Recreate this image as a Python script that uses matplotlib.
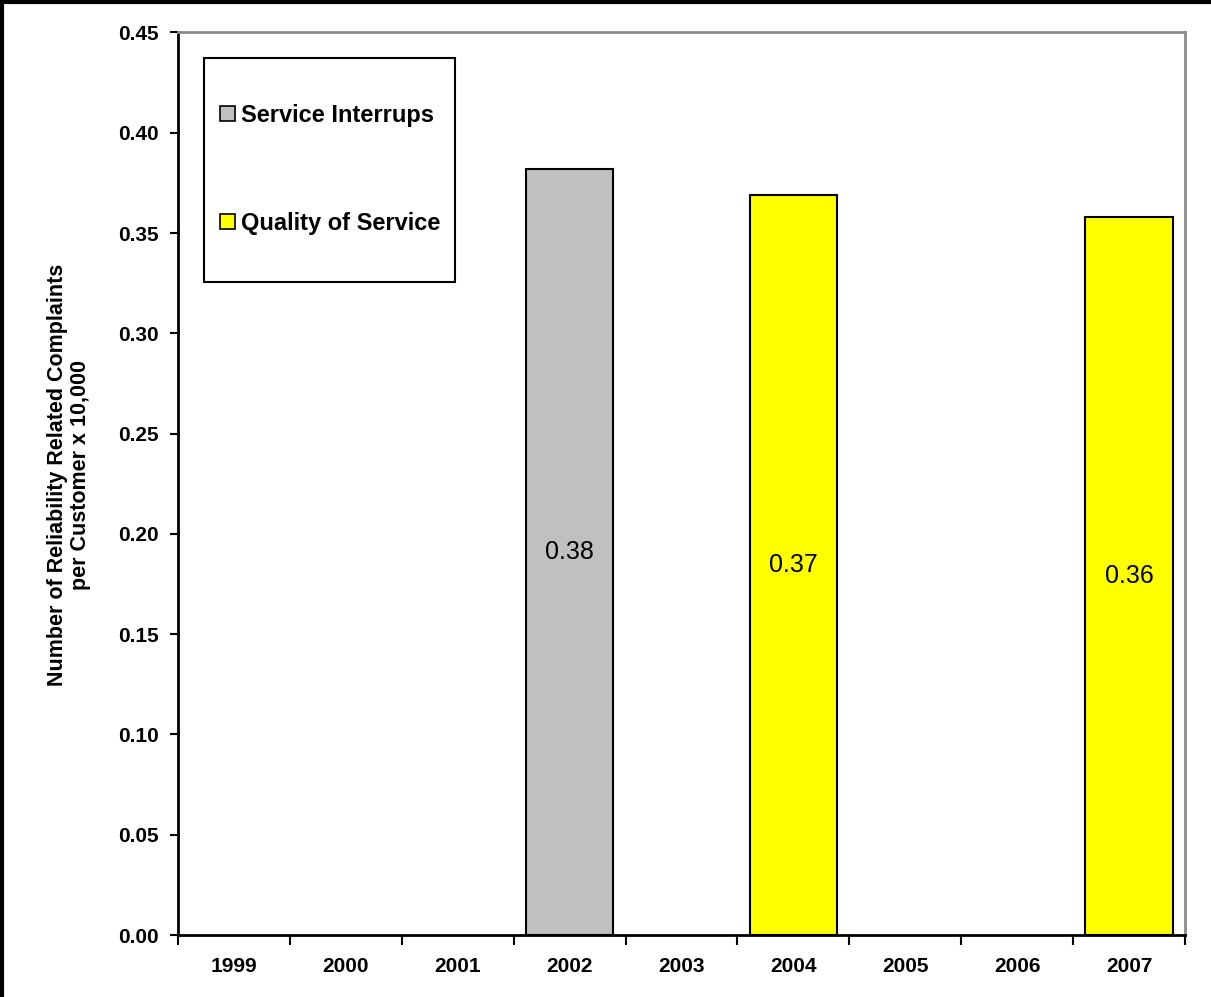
import numpy as np
import matplotlib
matplotlib.use("Agg")
import matplotlib.pyplot as plt
from matplotlib.patches import Rectangle, Patch
from matplotlib.lines import Line2D

plt.rcParams['font.family'] = ['Liberation Sans', 'DejaVu Sans']

# data
years = ['1999', '2000', '2001', '2002', '2003', '2004', '2005', '2006', '2007']
service_interrups = [np.nan, np.nan, np.nan, 0.382, np.nan, np.nan, np.nan, np.nan, np.nan]
quality_of_service = [np.nan, np.nan, np.nan, np.nan, np.nan, 0.369, np.nan, np.nan, 0.358]
y_ticks = [0.00, 0.05, 0.10, 0.15, 0.20, 0.25, 0.30, 0.35, 0.40, 0.45]

fig = plt.figure(figsize=(12.11, 9.97), dpi=100)
ax = fig.add_axes([178/1211, 1 - 935/997, (1185-178)/1211, (935-32.5)/997])

x = np.arange(len(years))
w = 0.78
b1 = ax.bar(x, service_interrups, w, color='#C0C0C0', edgecolor='black', linewidth=1.5,
            label='Service Interrups')
b2 = ax.bar(x, quality_of_service, w, color='#FFFF00', edgecolor='black', linewidth=1.5,
            label='Quality of Service')

for bars, vals in [(b1, service_interrups), (b2, quality_of_service)]:
    labs = ['' if np.isnan(v) else '%.2f' % v for v in vals]
    ax.bar_label(bars, labels=labs, label_type='center', fontsize=18)

ax.set_xlim(-0.5, len(years) - 0.5)
ax.set_ylim(0, 0.45)
ax.set_yticks(y_ticks)
ax.set_yticklabels(['%.2f' % t for t in y_ticks], fontsize=15, fontweight='bold')
ax.tick_params(axis='y', direction='out', length=6, width=1.5, pad=8)

# ticks between categories, labels at the centres
ax.set_xticks(np.arange(len(years) + 1) - 0.5)
ax.set_xticklabels([])
ax.tick_params(axis='x', which='major', direction='out', length=7, width=1.5)
ax.set_xticks(x, minor=True)
ax.set_xticklabels(years, minor=True, fontsize=15, fontweight='bold')
ax.tick_params(axis='x', which='minor', length=0, pad=16)

for s in ['left', 'bottom']:
    ax.spines[s].set_linewidth(2)
    ax.spines[s].set_color('black')
for s in ['top', 'right']:
    ax.spines[s].set_linewidth(2)
    ax.spines[s].set_color('#8c8c8c')

ax.set_ylabel('Number of Reliability Related Complaints\nper Customer x 10,000',
              fontsize=15.5, fontweight='bold', linespacing=1.15)
ax.yaxis.set_label_coords(-0.086, 0.51)

# legend box
ax.add_patch(Rectangle((0.026, 0.724), 0.249, 0.248, transform=ax.transAxes,
                       facecolor='white', edgecolor='black', linewidth=1.5, zorder=5))
handles = [Patch(facecolor='#C0C0C0', edgecolor='black', linewidth=1.2),
           Patch(facecolor='#FFFF00', edgecolor='black', linewidth=1.2)]
leg = ax.legend(handles, ['Service Interrups', 'Quality of Service'],
                loc='upper left', bbox_to_anchor=(0.042, 0.921), frameon=False,
                prop={'weight': 'bold', 'size': 17}, handlelength=0.62, handleheight=0.65,
                handletextpad=0.25, labelspacing=3.6, borderpad=0, borderaxespad=0)
leg.set_zorder(6)

# figure border (left and top)
fig.add_artist(Line2D([2/1211, 2/1211], [0, 1], transform=fig.transFigure, color='black', linewidth=3))
fig.add_artist(Line2D([0, 1], [1 - 2/997, 1 - 2/997], transform=fig.transFigure, color='black', linewidth=3))

fig.savefig('out.png', dpi=100)
